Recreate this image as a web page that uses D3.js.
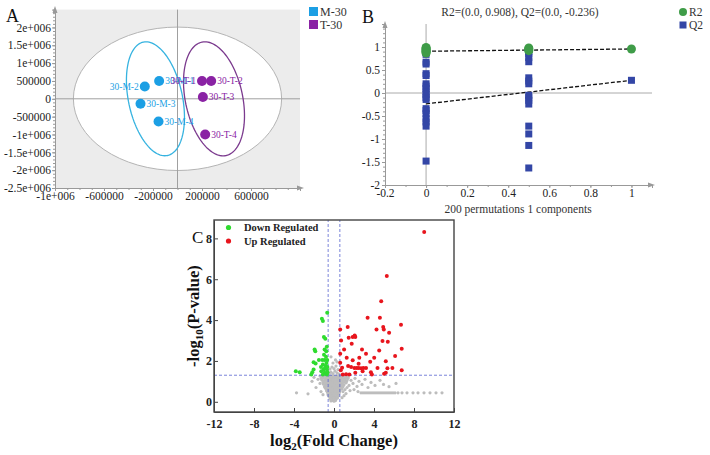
<!DOCTYPE html>
<html><head><meta charset="utf-8">
<script src="https://cdn.jsdelivr.net/npm/d3@7"></script>
<style>body{margin:0;background:#fff}svg{display:block}</style>
</head><body><svg id="c" width="710" height="455"></svg>
<script>
// ================= DATA =================
// Panel A : PCA scores
const pcaSamples = ["30-M-1","30-M-2","30-M-3","30-M-4","30-T-1","30-T-2","30-T-3","30-T-4"];
const pcaGroup   = ["M-30","M-30","M-30","M-30","T-30","T-30","T-30","T-30"];
const pcaT1 = [-150000,-267000,-302000,-155000,200000,275000,207000,226000];
const pcaT2 = [500000,344000,-140000,-635000,500000,500000,50000,-1000000];
const groupNames = ["M-30","T-30"];
// group confidence ellipses (centre, semi-axis vectors, data units)
const ellCenterX = [-180000, 298000];
const ellCenterY = [0, 0];
const ellMajorX = [-98450, -98450];
const ellMajorY = [1589000, 1589000];
const ellMinorX = [215500, 228600];
const ellMinorY = [157000, 166800];
const hotellingRX = 850000, hotellingRY = 2010000;
const aXTicks = [-1e6,-6e5,-2e5,2e5,6e5];
const aXTickLabels = ["-1e+006","-600000","-200000","200000","600000"];
const aYTicks = [2e6,1.5e6,1e6,5e5,0,-5e5,-1e6,-1.5e6,-2e6,-2.5e6];
const aYTickLabels = ["2e+006","1.5e+006","1e+006","500000","0","-500000","-1e+006","-1.5e+006","-2e+006","-2.5e+006"];

// Panel B : permutation test
const r2X = [0,0,0,0,0,0,0, 0.5,0.5,0.5,0.5, 1];
const r2Y = [0.99,0.97,0.95,0.93,0.91,0.89,0.87, 0.98,0.96,0.94,0.92, 0.957];
const q2X = [0,0,0,0,0,0,0,0,0,0,0,0,0,0,0,0,0,0,0,0, 0.5,0.5,0.5,0.5,0.5,0.5,0.5,0.5,0.5,0.5,0.5,0.5,0.5,0.5,0.5, 1];
const q2Y = [0.88,0.84,0.67,0.63,0.42,0.38,0.2,0.15,0.1,0.02,-0.03,-0.1,-0.14,-0.34,-0.38,-0.45,-0.56,-0.63,-0.72,-1.48,
             0.9,0.85,0.77,0.68,0.33,0.26,0.2,-0.05,-0.1,-0.16,-0.24,-0.72,-0.89,-1.14,-1.63, 0.276];
const r2Intercept = 0.908, q2Intercept = -0.236;
const bXTicks = [-0.2,0,0.2,0.4,0.6,0.8,1];
const bXTickLabels = ["-0.2","0","0.2","0.4","0.6","0.8","1"];
const bYTicks = [-2,-1.5,-1,-0.5,0,0.5,1];
const bYTickLabels = ["-2","-1.5","-1","-0.5","0","0.5","1"];

// Panel C : volcano plot
const upPoints = [[9.02,8.31],[5.28,6.16],[4.72,4.92],[3.36,4.12],[4.59,4.12],[1.37,3.66],[0.62,3.54],[4.25,3.54],
 [4.92,3.66],[4.98,3.54],[5.51,3.38],[6.70,3.77],[1.87,3.17],[2.07,3.25],[2.13,3.17],[1.47,3.14],[0.71,3.0],
 [4.85,2.97],[5.38,2.94],[1.77,2.84],[1.01,2.56],[2.80,2.56],[4.52,2.51],[6.77,2.6],[0.62,2.35],[3.2,2.35],
 [6.11,2.24],[1.27,2.16],[2.53,2.16],[4.02,2.16],[1.87,2.03],[3.62,1.96],[5.18,1.99],[0.62,1.91],[2.46,1.86],
 [1.41,1.75],[1.71,1.70],[2.04,1.65],[2.27,1.65],[2.46,1.66],[2.70,1.64],[2.93,1.65],[3.2,1.66],[4.35,1.65],
 [5.34,1.64],[5.84,1.66],[0.81,1.67],[0.68,1.54],[6.77,1.54],[0.88,1.34],[1.21,1.35],[1.54,1.33],[3.69,1.45],
 [3.79,1.34],[5.01,1.37],[5.18,1.42],[2.86,1.5],[2.13,1.42]];
const downPoints = [[-0.68,4.36],[-1.21,4.07],[-1.11,3.95],[-1.01,3.17],[-0.87,3.09],[-1.94,2.56],[-0.94,2.56],
 [-0.77,2.48],[-1.87,2.48],[-1.51,2.05],[-1.17,2.05],[-0.94,2.05],[-0.68,2.05],[-2.04,1.94],[-1.84,1.88],
 [-1.11,1.83],[-0.84,1.75],[-0.71,1.58],[-1.04,1.58],[-1.27,1.5],[-0.94,1.42],[-0.71,1.34],[-1.11,1.34],
 [-2.17,1.45],[-3.82,1.5],[-3.43,1.45],[-2.27,1.34],[-2.04,1.58],[-0.75,1.9],[-0.8,2.2],[-0.65,1.45],
 [-0.9,1.65],[-1.3,1.7],[-0.72,2.7],[-1.0,2.3],[-0.66,1.7]];
const nsPoints = [
 [-0.3,0.04],[-0.15,0.07],[0,0.03],[0.15,0.06],
 [-0.4,0.14],[-0.25,0.17],[-0.1,0.13],[0.05,0.16],[0.2,0.14],[0.35,0.18],
 [-0.5,0.26],[-0.35,0.23],[-0.2,0.27],[-0.05,0.24],[0.1,0.26],[0.25,0.23],[0.4,0.27],
 [-0.6,0.34],[-0.45,0.37],[-0.3,0.33],[-0.15,0.36],[0,0.34],[0.15,0.37],[0.3,0.33],[0.45,0.36],
 [-0.65,0.46],[-0.5,0.43],[-0.35,0.47],[-0.2,0.44],[-0.05,0.46],[0.1,0.43],[0.25,0.47],[0.4,0.44],[0.55,0.46],
 [-0.75,0.54],[-0.6,0.57],[-0.45,0.53],[-0.3,0.56],[-0.15,0.54],[0,0.57],[0.15,0.53],[0.3,0.56],[0.45,0.54],[0.6,0.57],
 [-0.85,0.66],[-0.7,0.63],[-0.55,0.67],[-0.4,0.64],[-0.25,0.66],[-0.1,0.63],[0.05,0.67],[0.2,0.64],[0.35,0.66],[0.5,0.63],[0.65,0.67],[0.8,0.64],
 [-0.95,0.74],[-0.8,0.77],[-0.6,0.73],[-0.45,0.76],[-0.3,0.74],[-0.15,0.77],[0,0.73],[0.15,0.76],[0.3,0.74],[0.45,0.77],[0.6,0.73],[0.75,0.76],[0.9,0.74],
 [-1.05,0.86],[-0.9,0.83],[-0.7,0.87],[-0.5,0.84],[-0.35,0.86],[-0.2,0.83],[-0.05,0.87],[0.1,0.84],[0.25,0.86],[0.4,0.83],[0.55,0.87],[0.7,0.84],[0.85,0.86],[1.0,0.83],
 [-1.1,0.94],[-0.95,0.97],[-0.8,0.93],[-0.6,0.96],[-0.45,0.94],[-0.3,0.97],[-0.15,0.93],[0,0.96],[0.15,0.94],[0.3,0.97],[0.45,0.93],[0.6,0.96],[0.8,0.94],[1.0,0.97],[1.2,0.93],
 [-1.2,1.06],[-1.0,1.03],[-0.85,1.07],[-0.7,1.04],[-0.55,1.06],[-0.4,1.03],[-0.25,1.07],[-0.1,1.04],[0.05,1.06],[0.2,1.03],[0.35,1.07],[0.5,1.04],[0.7,1.06],[0.9,1.03],[1.1,1.07],[1.3,1.04],
 [-1.3,1.14],[-1.1,1.17],[-0.9,1.13],[-0.75,1.16],[-0.6,1.14],[-0.45,1.17],[-0.3,1.13],[-0.15,1.16],[0,1.14],[0.15,1.17],[0.3,1.13],[0.45,1.16],[0.6,1.14],[0.8,1.17],[1.0,1.13],[1.2,1.16],[1.4,1.14],
 [-1.4,1.26],[-1.2,1.23],[-1.0,1.27],[-0.8,1.24],[-0.65,1.26],[-0.5,1.23],[-0.35,1.27],[-0.2,1.24],[-0.05,1.26],[0.1,1.23],[0.25,1.27],[0.4,1.24],[0.55,1.26],[0.7,1.23],[0.9,1.27],[1.1,1.24],[1.3,1.26],
 [-0.5,1.4],[-0.3,1.45],[-0.1,1.38],[0.1,1.5],[0.3,1.42],[0.5,1.36],[-0.4,1.6],[-0.2,1.7],[0.0,1.62],[0.2,1.75],[0.4,1.58],[-0.1,1.9],[0.15,2.05],[-0.3,2.2],[0.3,1.95],
 [1.0,1.1],[1.2,0.95],[1.4,1.2],[1.5,0.8],[1.7,1.05],[1.9,0.9],[2.1,1.15],[2.3,0.75],[2.5,1.0],[2.8,0.85],[3.1,1.1],[3.4,0.7],
 [3.7,0.95],[4.1,0.8],[4.6,1.05],[4.95,0.85],[5.5,0.74],[6.2,0.9],[1.1,0.6],[1.3,0.7],[1.6,0.55],[2.0,0.6],[2.4,0.5],[0.9,0.5],
 [1.0,0.3],[0.8,0.2],[1.2,0.4],
 [-1.4,0.9],[-1.6,1.1],[-1.8,0.7],[-2.2,1.0],[-2.6,0.39],[-3.75,0.44],[-1.3,0.5],[-1.1,0.35],[-2.0,1.2],
 [2.7,0.44],[2.9,0.44],[3.1,0.44],[3.3,0.44],[3.5,0.44],[3.7,0.44],[3.9,0.44],[4.1,0.44],[4.3,0.44],[4.5,0.44],
 [4.7,0.44],[4.9,0.44],[5.1,0.44],[5.3,0.44],[5.5,0.44],[5.7,0.44],[5.9,0.44],[6.1,0.44],[6.4,0.44],[6.8,0.44],
 [7.3,0.44],[7.9,0.44],[8.4,0.44],[9.0,0.44],[9.6,0.44],[10.2,0.44],[10.8,0.44]];
const pThreshold = 1.3, fcThreshold = 0.585;
const cXTicks = [-12,-8,-4,0,4,8,12];
const cXTickLabels = ["-12","-8","-4","0","4","8","12"];
const cYTicks = [0,2,4,6,8];
const cYTickLabels = ["0","2","4","6","8"];

// ================= DRAWING =================
const SERIF = "'Liberation Serif','Times New Roman',serif";
const svg = d3.select("#c");
const colM = "#1c9fe4", colT = "#8a22a4";
const groupColor = g => g === "M-30" ? colM : colT;
const ellColor = ["#36b3e0", "#7b3a8e"];

function styleAxis(g, color, fs, weight) {
  g.attr("font-family", null);
  g.select(".domain").attr("stroke", color);
  g.selectAll(".tick line").attr("stroke", color);
  g.selectAll(".tick text").style("font-family", SERIF).style("font-size", fs)
    .attr("fill", "#222").style("font-weight", weight || "normal");
}
function arrow(g, x, y, dir, color) {
  const d = dir === "up" ? `M${x-2.5},${y+7}L${x},${y}L${x+2.5},${y+7}Z`
                        : `M${x-7},${y-2.5}L${x},${y}L${x-7},${y+2.5}Z`;
  g.append("path").attr("d", d).attr("fill", color);
}

// ---------- Panel A ----------
const xA = d3.scaleLinear().domain([-1e6, 1e6]).range([55, 300]);
const yA = d3.scaleLinear().domain([-2.5e6, 2.5e6]).range([188, 9.6]);
const gA = svg.append("g");
gA.append("rect").attr("x", xA(-1e6)).attr("y", yA(2.5e6))
  .attr("width", xA(1e6) - xA(-1e6)).attr("height", yA(-2.5e6) - yA(2.5e6)).attr("fill", "#ececec");
gA.append("ellipse").attr("cx", xA(0)).attr("cy", yA(0))
  .attr("rx", xA(hotellingRX) - xA(0)).attr("ry", yA(0) - yA(hotellingRY))
  .attr("fill", "#fff").attr("stroke", "#b4b4b4").attr("stroke-width", 1);
gA.append("line").attr("x1", xA(0)).attr("x2", xA(0)).attr("y1", yA(2.5e6)).attr("y2", yA(-2.5e6)).attr("stroke", "#a0a0a0");
gA.append("line").attr("x1", xA(-1e6)).attr("x2", xA(1e6)).attr("y1", yA(0)).attr("y2", yA(0)).attr("stroke", "#a0a0a0");

const tt = d3.range(0, 2 * Math.PI + 0.01, Math.PI / 60);
groupNames.forEach((gname, i) => {
  const pts = tt.map(t => [
    xA(ellCenterX[i] + Math.cos(t) * ellMajorX[i] + Math.sin(t) * ellMinorX[i]),
    yA(ellCenterY[i] + Math.cos(t) * ellMajorY[i] + Math.sin(t) * ellMinorY[i])]);
  gA.append("path").attr("d", d3.line()(pts) + "Z").attr("fill", "none")
    .attr("stroke", ellColor[i]).attr("stroke-width", 1.3);
});

const yAxA = gA.append("g").attr("transform", `translate(${xA(-1e6)},0)`)
  .call(d3.axisLeft(yA).ticks(50).tickSize(2).tickFormat(""));
yAxA.select(".domain").remove(); yAxA.selectAll("line").attr("stroke", "#999");
const yAxA2 = gA.append("g").attr("transform", `translate(${xA(-1e6)},0)`)
  .call(d3.axisLeft(yA).tickValues(aYTicks).tickFormat((d, i) => aYTickLabels[i]).tickSizeOuter(0).tickSize(3).tickPadding(1));
styleAxis(yAxA2, "#999", "11.5px");
const xAxA = gA.append("g").attr("transform", `translate(0,${yA(-2.5e6)})`)
  .call(d3.axisBottom(xA).ticks(20).tickSize(2).tickFormat(""));
xAxA.select(".domain").remove(); xAxA.selectAll("line").attr("stroke", "#999");
const xAxA2 = gA.append("g").attr("transform", `translate(0,${yA(-2.5e6)})`)
  .call(d3.axisBottom(xA).tickValues(aXTicks).tickFormat((d, i) => aXTickLabels[i]).tickSizeOuter(0).tickSize(3).tickPadding(1));
styleAxis(xAxA2, "#999", "11.5px");
arrow(gA, xA(-1e6), 6, "up", "#999");
arrow(gA, 304, yA(-2.5e6), "right", "#999");

const labelLeft = new Set(["30-M-2", "30-T-1"]);
pcaSamples.forEach((s, i) => {
  const c = groupColor(pcaGroup[i]);
  gA.append("circle").attr("cx", xA(pcaT1[i])).attr("cy", yA(pcaT2[i])).attr("r", 5).attr("fill", c);
  const left = labelLeft.has(s);
  gA.append("text").attr("x", xA(pcaT1[i]) + (left ? -6 : 6)).attr("y", yA(pcaT2[i]) + 3.3)
    .attr("text-anchor", left ? "end" : "start").style("font-family", SERIF).attr("font-size", "9.5px")
    .attr("fill", c).text(s);
});
groupNames.forEach((gname, i) => {
  gA.append("rect").attr("x", 309).attr("y", 7 + i * 13).attr("width", 9).attr("height", 9).attr("fill", groupColor(gname));
  gA.append("text").attr("x", 320).attr("y", 15.5 + i * 13).style("font-family", SERIF).attr("font-size", "12px")
    .attr("fill", "#333").text(gname);
});
svg.append("text").attr("x", 6).attr("y", 22).style("font-family", SERIF).attr("font-size", "18px").attr("fill", "#111").text("A");

// ---------- Panel B ----------
const xB = d3.scaleLinear().domain([-0.2, 1.1]).range([385, 652]);
const yB = d3.scaleLinear().domain([-2, 1.5]).range([185, 24]);
const gB = svg.append("g");
gB.append("line").attr("x1", xB(0)).attr("x2", xB(0)).attr("y1", yB(-2)).attr("y2", yB(1.5)).attr("stroke", "#aaa");
gB.append("line").attr("x1", xB(-0.2)).attr("x2", xB(1.1)).attr("y1", yB(0)).attr("y2", yB(0)).attr("stroke", "#aaa");
const yAxB0 = gB.append("g").attr("transform", `translate(${xB(-0.2)},0)`)
  .call(d3.axisLeft(yB).ticks(35).tickSize(2).tickFormat(""));
yAxB0.select(".domain").remove(); yAxB0.selectAll("line").attr("stroke", "#999");
const yAxB = gB.append("g").attr("transform", `translate(${xB(-0.2)},0)`)
  .call(d3.axisLeft(yB).tickValues(bYTicks).tickFormat((d, i) => bYTickLabels[i]).tickSizeOuter(0).tickSize(3).tickPadding(2));
styleAxis(yAxB, "#999", "11.5px");
const xAxB0 = gB.append("g").attr("transform", `translate(0,${yB(-2)})`)
  .call(d3.axisBottom(xB).ticks(13).tickSize(2).tickFormat(""));
xAxB0.select(".domain").remove(); xAxB0.selectAll("line").attr("stroke", "#999");
const xAxB = gB.append("g").attr("transform", `translate(0,${yB(-2)})`)
  .call(d3.axisBottom(xB).tickValues(bXTicks).tickFormat((d, i) => bXTickLabels[i]).tickSizeOuter(0).tickSize(3).tickPadding(1));
styleAxis(xAxB, "#999", "11.5px");
arrow(gB, xB(-0.2), 21, "up", "#999");
arrow(gB, 655, yB(-2), "right", "#999");

const colR2 = "#3f9c48", colQ2 = "#3346a6";
gB.append("line").attr("x1", xB(0)).attr("y1", yB(r2Intercept)).attr("x2", xB(1)).attr("y2", yB(r2Y[r2Y.length - 1]))
  .attr("stroke", "#111").attr("stroke-width", 1.3).attr("stroke-dasharray", "4,2");
gB.append("line").attr("x1", xB(0)).attr("y1", yB(q2Intercept)).attr("x2", xB(1)).attr("y2", yB(q2Y[q2Y.length - 1]))
  .attr("stroke", "#111").attr("stroke-width", 1.3).attr("stroke-dasharray", "4,2");
gB.selectAll("rect.q2").data(q2Y).join("rect").attr("class", "q2")
  .attr("x", (d, i) => xB(q2X[i]) - 3.5).attr("y", d => yB(d) - 3.5).attr("width", 7).attr("height", 7).attr("fill", colQ2);
gB.selectAll("circle.r2").data(r2Y).join("circle").attr("class", "r2")
  .attr("cx", (d, i) => xB(r2X[i])).attr("cy", d => yB(d)).attr("r", 4.5).attr("fill", colR2);
gB.append("text").attr("x", 520).attr("y", 16).attr("text-anchor", "middle").style("font-family", SERIF)
  .attr("font-size", "11.5px").attr("fill", "#333").text("R2=(0.0, 0.908), Q2=(0.0, -0.236)");
gB.append("text").attr("x", 518).attr("y", 213).attr("text-anchor", "middle").style("font-family", SERIF)
  .attr("font-size", "11.5px").attr("fill", "#333").text("200 permutations 1 components");
gB.append("circle").attr("cx", 683).attr("cy", 12).attr("r", 4).attr("fill", colR2);
gB.append("text").attr("x", 689).attr("y", 16).style("font-family", SERIF).attr("font-size", "11.5px").attr("fill", "#333").text("R2");
gB.append("rect").attr("x", 679.5).attr("y", 21.5).attr("width", 7).attr("height", 7).attr("fill", colQ2);
gB.append("text").attr("x", 689).attr("y", 29).style("font-family", SERIF).attr("font-size", "11.5px").attr("fill", "#333").text("Q2");
svg.append("text").attr("x", 362).attr("y", 23).style("font-family", SERIF).attr("font-size", "18px").attr("fill", "#111").text("B");

// ---------- Panel C ----------
const xC = d3.scaleLinear().domain([-12, 12]).range([214, 454]);
const yC = d3.scaleLinear().domain([-0.5, 8.9]).range([412, 220]);
const gC = svg.append("g");
const colUp = "#e8151d", colDown = "#2fdb2f", colNs = "#bdbdbd";
gC.selectAll("circle.ns").data(nsPoints).join("circle").attr("class", "ns")
  .attr("cx", d => xC(d[0])).attr("cy", d => yC(d[1])).attr("r", 1.6).attr("fill", colNs);
const dashCol = "#5865d0";
gC.append("line").attr("x1", xC(-12)).attr("x2", xC(12)).attr("y1", yC(pThreshold)).attr("y2", yC(pThreshold))
  .attr("stroke", dashCol).attr("stroke-width", 0.8).attr("stroke-dasharray", "3,2");
[-fcThreshold, fcThreshold].forEach(v => gC.append("line").attr("x1", xC(v)).attr("x2", xC(v))
  .attr("y1", yC(-0.5)).attr("y2", yC(8.9)).attr("stroke", dashCol).attr("stroke-width", 0.8).attr("stroke-dasharray", "3,2"));
gC.selectAll("circle.dn").data(downPoints).join("circle").attr("class", "dn")
  .attr("cx", d => xC(d[0])).attr("cy", d => yC(d[1])).attr("r", 2).attr("fill", colDown);
gC.selectAll("circle.up").data(upPoints).join("circle").attr("class", "up")
  .attr("cx", d => xC(d[0])).attr("cy", d => yC(d[1])).attr("r", 2).attr("fill", colUp);

const xAxC = gC.append("g").attr("transform", `translate(0,${yC(-0.5)})`)
  .call(d3.axisBottom(xC).tickValues(cXTicks).tickFormat((d, i) => cXTickLabels[i]).tickSizeOuter(0).tickSizeInner(-4).tickPadding(7.5));
styleAxis(xAxC, "#444", "12px", "bold");
const yAxC = gC.append("g").attr("transform", `translate(${xC(-12)},0)`)
  .call(d3.axisLeft(yC).tickValues(cYTicks).tickFormat((d, i) => cYTickLabels[i]).tickSizeOuter(0).tickSizeInner(-4).tickPadding(2));
styleAxis(yAxC, "#444", "12px", "bold");
gC.append("rect").attr("x", xC(-12)).attr("y", yC(8.9)).attr("width", xC(12) - xC(-12)).attr("height", yC(-0.5) - yC(8.9))
  .attr("fill", "none").attr("stroke", "#444").attr("stroke-width", 1.4);

// legend
gC.append("circle").attr("cx", 228.5).attr("cy", 227.5).attr("r", 2.6).attr("fill", colDown);
gC.append("text").attr("x", 244).attr("y", 231).style("font-family", SERIF).attr("font-weight", "bold")
  .attr("font-size", "10.5px").attr("fill", "#222").text("Down Regulated");
gC.append("circle").attr("cx", 228.5).attr("cy", 241).attr("r", 2.6).attr("fill", colUp);
gC.append("text").attr("x", 244).attr("y", 244.5).style("font-family", SERIF).attr("font-weight", "bold")
  .attr("font-size", "10.5px").attr("fill", "#222").text("Up Regulated");

// axis titles
const xt = gC.append("text").attr("x", 334).attr("y", 446).attr("text-anchor", "middle").style("font-family", SERIF)
  .attr("font-weight", "bold").attr("font-size", "16.5px").attr("fill", "#111");
xt.append("tspan").text("log");
xt.append("tspan").attr("font-size", "11px").attr("dy", 4).text("2");
xt.append("tspan").attr("dy", -4).text("(Fold Change)");
const yt = gC.append("text").attr("transform", "translate(199,316) rotate(-90)").attr("text-anchor", "middle")
  .style("font-family", SERIF).attr("font-weight", "bold").attr("font-size", "16.5px").attr("fill", "#111");
yt.append("tspan").text("-log");
yt.append("tspan").attr("font-size", "11px").attr("dy", 4).text("10");
yt.append("tspan").attr("dy", -4).text("(P-value)");
svg.append("text").attr("x", 192).attr("y", 243).style("font-family", SERIF).attr("font-size", "17px").attr("fill", "#111").text("C");
</script></body></html>
